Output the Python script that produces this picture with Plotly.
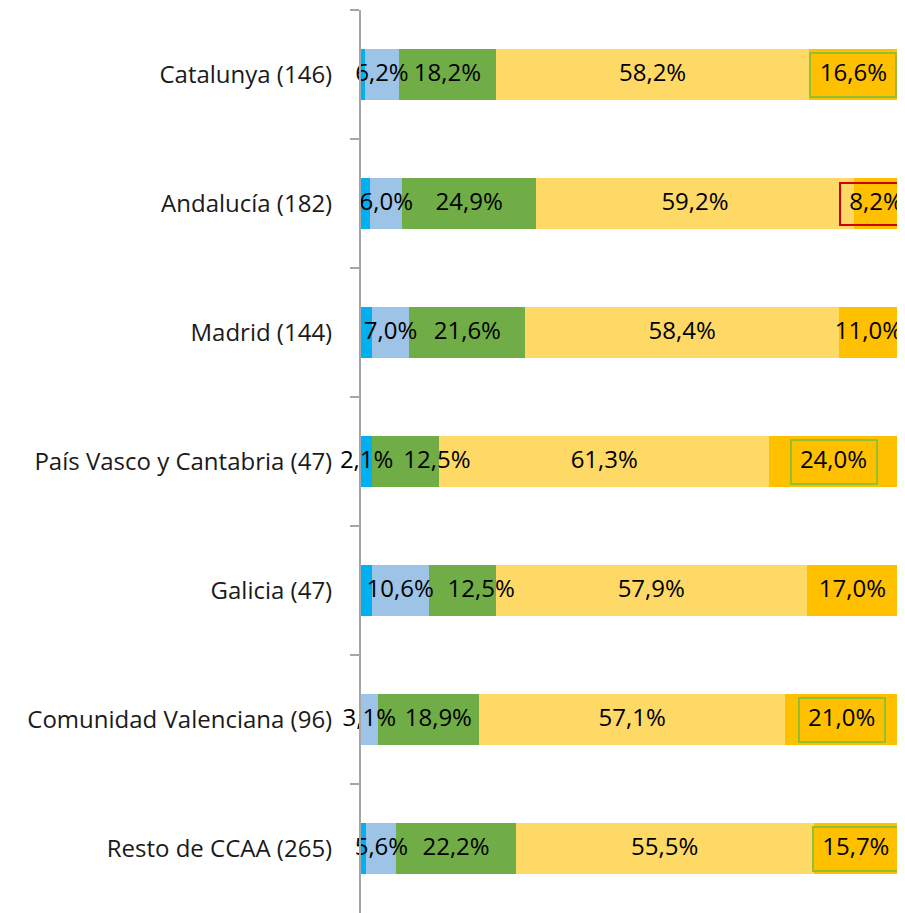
import plotly.graph_objects as go

categories = ["Catalunya (146)", "Andalucía (182)", "Madrid (144)",
              "País Vasco y Cantabria (47)", "Galicia (47)",
              "Comunidad Valenciana (96)", "Resto de CCAA (265)"]

s_darkblue = [0.8, 1.7, 2.0, 2.1, 2.0, 0.0, 1.0]
s_lightblue = [6.2, 6.0, 7.0, 0.0, 10.6, 3.1, 5.6]
s_green = [18.2, 24.9, 21.6, 12.5, 12.5, 18.9, 22.2]
s_yellow = [58.2, 59.2, 58.4, 61.3, 57.9, 57.1, 55.5]
s_orange = [16.6, 8.2, 11.0, 24.0, 17.0, 21.0, 15.7]

# which labels of the first (small) series are shown
darkblue_label_shown = [False, False, False, True, False, False, False]
# boxed labels on the last series: "" none, "g" green box, "r" red box
orange_box = ["g", "r", "", "g", "", "g", "g"]
# labels moved sideways (pixels) in the original: (row, series) -> shift
label_shift = {(3, 2): 31, (4, 2): 19, (5, 2): 10}

colors = ["#00B0F0", "#9DC3E6", "#70AD47", "#FFD966", "#FFC000"]
series = [s_darkblue, s_lightblue, s_green, s_yellow, s_orange]
FONT = "Open Sans"

W, H = 897, 905
ML, MR, MT, MB = 353, 7, 2, 0
ROW_PX = 129.0
plot_w = W - ML - MR
plot_h = H - MT - MB


def fmt(v):
    return f"{v:.1f}".replace(".", ",") + "%"


fig = go.Figure()
for vals, col in zip(series, colors):
    fig.add_trace(go.Bar(
        y=categories, x=vals, orientation="h",
        marker=dict(color=col, line=dict(width=0)),
        hoverinfo="skip", showlegend=False,
    ))

# labels on top of every bar (centre of each segment, from the data)
lx, ly, lt = [], [], []
for j, cat in enumerate(categories):
    total = sum(s[j] for s in series)
    cum = 0.0
    for i, s in enumerate(series):
        v = s[j]
        show = darkblue_label_shown[j] if i == 0 else v > 0
        if show:
            cx = (cum + v / 2) / total * 100
            cx += label_shift.get((j, i), 0) * 100.0 / plot_w
            lx.append(cx)
            ly.append(cat)
            lt.append(fmt(v))
        cum += v
fig.add_trace(go.Scatter(
    x=lx, y=ly, text=lt, mode="text", textposition="middle center",
    textfont=dict(family=FONT, size=24, color="#000000"),
    cliponaxis=False, hoverinfo="skip", showlegend=False,
))

# boxes around some labels of the last series (positions computed from data)
annotations = []
for j, cat in enumerate(categories):
    if not orange_box[j]:
        continue
    total = sum(s[j] for s in series)
    start = sum(s[j] for s in series[:4]) / total * 100
    cx = (start + 100.0) / 2
    if orange_box[j] == "g":
        annotations.append(dict(x=cx, y=cat, xref="x", yref="y", text=" ",
                                showarrow=False, width=84, height=42,
                                borderwidth=2, bordercolor="#92C030", borderpad=0))
    else:
        annotations.append(dict(x=cx, y=cat, xref="x", yref="y", text=" ",
                                showarrow=False, width=70, height=40,
                                borderwidth=2, bordercolor="#D00000", borderpad=0))

fig.update_layout(
    barmode="stack", barnorm="percent", bargap=0.6,
    width=W, height=H,
    margin=dict(l=ML, r=MR, t=MT, b=MB, autoexpand=False),
    paper_bgcolor="white", plot_bgcolor="white",
    font=dict(family=FONT, size=24, color="#1a1a1a"),
    annotations=annotations,
    xaxis=dict(range=[0, 100], visible=False, showgrid=False, zeroline=False,
               automargin=False),
    yaxis=dict(type="category", range=[-0.5 + plot_h / ROW_PX, -0.5],
               tickson="boundaries",
               ticks="outside", ticklen=9, tickwidth=2, tickcolor="#A6A6A6",
               showline=True, linecolor="#A6A6A6", linewidth=2,
               showgrid=False, ticklabelstandoff=22, automargin=False,
               tickfont=dict(family=FONT, size=24, color="#1a1a1a")),
)

fig.write_html("out.html")
